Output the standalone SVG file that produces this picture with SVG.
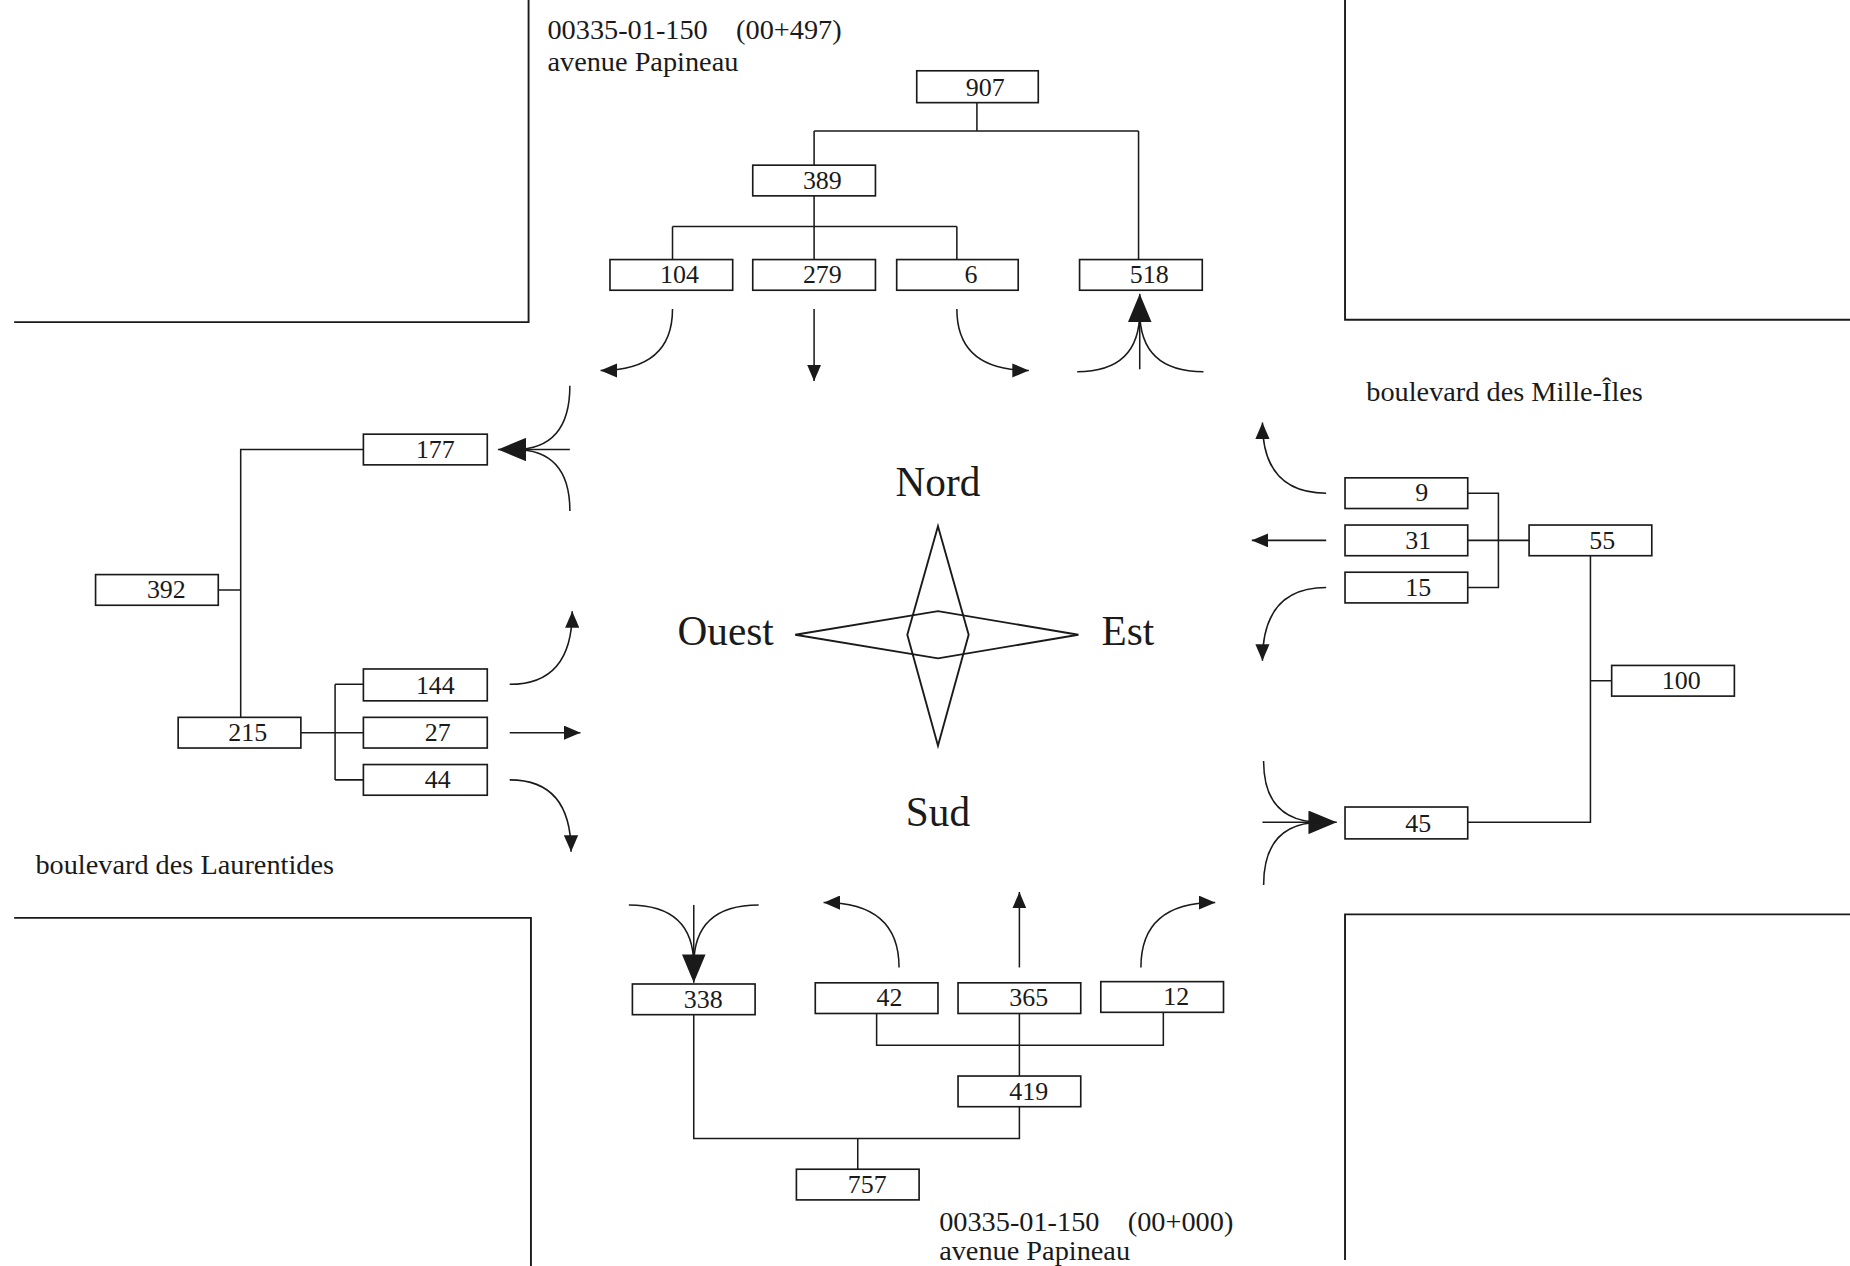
<svg xmlns="http://www.w3.org/2000/svg" width="1850" height="1266" viewBox="0 0 1850 1266">
<style>
.bg{fill:#ffffff}
.edge{fill:none;stroke:#1a1a1a;stroke-width:1.6}
.box{fill:#ffffff;stroke:#1a1a1a;stroke-width:1.4}
.ln{fill:none;stroke:#1a1a1a;stroke-width:1.3}
.num{font-family:"Liberation Serif","Times New Roman",serif;font-size:22px;fill:#1a1a1a;text-anchor:middle}
.lbl{font-family:"Liberation Serif","Times New Roman",serif;font-size:24px;fill:#1a1a1a}
.dir{font-family:"Liberation Serif","Times New Roman",serif;font-size:35px;fill:#1a1a1a;text-anchor:middle}
.star{fill:none;stroke:#1a1a1a;stroke-width:1.6}
</style>
<defs>
<marker id="sm" markerUnits="userSpaceOnUse" viewBox="0 0 14 12" refX="14" refY="6" markerWidth="14" markerHeight="12" orient="auto"><path d="M0,0 L14,6 L0,12 z" fill="#1a1a1a"/></marker>
<marker id="bg" markerUnits="userSpaceOnUse" viewBox="0 0 24 20" refX="24" refY="10" markerWidth="24" markerHeight="20" orient="auto"><path d="M0,0 L24,10 L0,20 z" fill="#1a1a1a"/></marker>
</defs>
<rect class="bg" x="0" y="0" width="1850" height="1266"/>
<g transform="scale(1.17985)">
<g id="road-edges">
<path class="edge" d="M448,0 V273 H12"/>
<path class="edge" d="M1140,0 V271 H1568"/>
<path class="edge" d="M12,778 H450 V1073"/>
<path class="edge" d="M1568,775 H1140 V1068"/>
</g>
<g id="labels">
<text class="lbl" x="464" y="33" xml:space="preserve">00335-01-150    (00+497)</text>
<text class="lbl" x="464" y="60">avenue Papineau</text>
<text class="lbl" x="30" y="741">boulevard des Laurentides</text>
<text class="lbl" x="1158" y="340">boulevard des Mille-Îles</text>
<text class="lbl" x="796" y="1043" xml:space="preserve">00335-01-150    (00+000)</text>
<text class="lbl" x="796" y="1068">avenue Papineau</text>
</g>
<g id="compass">
<polygon class="star" points="795,446 821,538 795,632 769,538"/>
<polygon class="star" points="674,538 795,518 914,538 795,558"/>
<text class="dir" x="795" y="420">Nord</text>
<text class="dir" x="795" y="700">Sud</text>
<text class="dir" x="615" y="547">Ouest</text>
<text class="dir" x="956" y="547">Est</text>
</g>
<g id="connectors">
<path class="ln" d="M828,87 V111 M690,111 H965 M690,111 V140 M965,111 V220"/>
<path class="ln" d="M690,166 V220 M570,192 H811 M570,192 V220 M811,192 V220"/>
<path class="ln" d="M308,381 H204 V608 M185,500 H204"/>
<path class="ln" d="M255,621 H308 M284,580 V661 M284,580 H308 M284,661 H308"/>
<path class="ln" d="M1244,418 H1270 V498 H1244 M1244,458 H1296"/>
<path class="ln" d="M1348,471 V697 H1244 M1348,577 H1366"/>
<path class="ln" d="M588,860 V965 H864 V938 M727,965 V991"/>
<path class="ln" d="M743,859 V886 H986 V858 M864,859 V912"/>
<path class="ln" d="M570,262 Q570,314 509,314" marker-end="url(#sm)"/>
<path class="ln" d="M690,262 V323" marker-end="url(#sm)"/>
<path class="ln" d="M811,262 Q811,314 872,314" marker-end="url(#sm)"/>
<path class="ln" d="M966,313 V249" marker-end="url(#bg)"/>
<path class="ln" d="M913,315 Q966,315 966,264"/>
<path class="ln" d="M1020,315 Q966,315 966,264"/>
<path class="ln" d="M483,381 H422" marker-end="url(#bg)"/>
<path class="ln" d="M483,327 Q483,381 436,381"/>
<path class="ln" d="M483,433 Q483,381 436,381"/>
<path class="ln" d="M432,580 Q485,580 485,518" marker-end="url(#sm)"/>
<path class="ln" d="M432,621 H492" marker-end="url(#sm)"/>
<path class="ln" d="M432,661 Q484,661 484,722" marker-end="url(#sm)"/>
<path class="ln" d="M1124,418 Q1070,418 1070,358" marker-end="url(#sm)"/>
<path class="ln" d="M1124,458 H1061" marker-end="url(#sm)"/>
<path class="ln" d="M1124,498 Q1070,498 1070,560" marker-end="url(#sm)"/>
<path class="ln" d="M1070,697 H1133" marker-end="url(#bg)"/>
<path class="ln" d="M1071,645 Q1071,697 1120,697"/>
<path class="ln" d="M1071,750 Q1071,697 1120,697"/>
<path class="ln" d="M588,767 V833" marker-end="url(#bg)"/>
<path class="ln" d="M533,767 Q588,767 588,818"/>
<path class="ln" d="M643,767 Q588,767 588,818"/>
<path class="ln" d="M762,820 Q762,765 698,765" marker-end="url(#sm)"/>
<path class="ln" d="M864,820 V756" marker-end="url(#sm)"/>
<path class="ln" d="M967,820 Q967,765 1030,765" marker-end="url(#sm)"/>
</g>
<g id="n907"><rect class="box" x="777" y="60" width="103" height="27"/><text class="num" x="835" y="81">907</text></g>
<g id="n389"><rect class="box" x="638" y="140" width="104" height="26"/><text class="num" x="697" y="160">389</text></g>
<g id="n104"><rect class="box" x="517" y="220" width="104" height="26"/><text class="num" x="576" y="240">104</text></g>
<g id="n279"><rect class="box" x="638" y="220" width="104" height="26"/><text class="num" x="697" y="240">279</text></g>
<g id="n6"><rect class="box" x="760" y="220" width="103" height="26"/><text class="num" x="823" y="240">6</text></g>
<g id="n518"><rect class="box" x="915" y="220" width="104" height="26"/><text class="num" x="974" y="240">518</text></g>
<g id="n177"><rect class="box" x="308" y="368" width="105" height="26"/><text class="num" x="369" y="388">177</text></g>
<g id="n392"><rect class="box" x="81" y="487" width="104" height="26"/><text class="num" x="141" y="507">392</text></g>
<g id="n215"><rect class="box" x="151" y="608" width="104" height="26"/><text class="num" x="210" y="628">215</text></g>
<g id="n144"><rect class="box" x="308" y="567" width="105" height="27"/><text class="num" x="369" y="588">144</text></g>
<g id="n27"><rect class="box" x="308" y="608" width="105" height="26"/><text class="num" x="371" y="628">27</text></g>
<g id="n44"><rect class="box" x="308" y="648" width="105" height="26"/><text class="num" x="371" y="668">44</text></g>
<g id="n9"><rect class="box" x="1140" y="405" width="104" height="26"/><text class="num" x="1205" y="425">9</text></g>
<g id="n31"><rect class="box" x="1140" y="445" width="104" height="26"/><text class="num" x="1202" y="465">31</text></g>
<g id="n15"><rect class="box" x="1140" y="485" width="104" height="26"/><text class="num" x="1202" y="505">15</text></g>
<g id="n55"><rect class="box" x="1296" y="445" width="104" height="26"/><text class="num" x="1358" y="465">55</text></g>
<g id="n100"><rect class="box" x="1366" y="564" width="104" height="26"/><text class="num" x="1425" y="584">100</text></g>
<g id="n45"><rect class="box" x="1140" y="684" width="104" height="27"/><text class="num" x="1202" y="705">45</text></g>
<g id="n338"><rect class="box" x="536" y="834" width="104" height="26"/><text class="num" x="596" y="854">338</text></g>
<g id="n42"><rect class="box" x="691" y="833" width="104" height="26"/><text class="num" x="754" y="853">42</text></g>
<g id="n365"><rect class="box" x="812" y="833" width="104" height="26"/><text class="num" x="872" y="853">365</text></g>
<g id="n12"><rect class="box" x="933" y="832" width="104" height="26"/><text class="num" x="997" y="852">12</text></g>
<g id="n419"><rect class="box" x="812" y="912" width="104" height="26"/><text class="num" x="872" y="932">419</text></g>
<g id="n757"><rect class="box" x="675" y="991" width="104" height="26"/><text class="num" x="735" y="1011">757</text></g>
</g>
</svg>
